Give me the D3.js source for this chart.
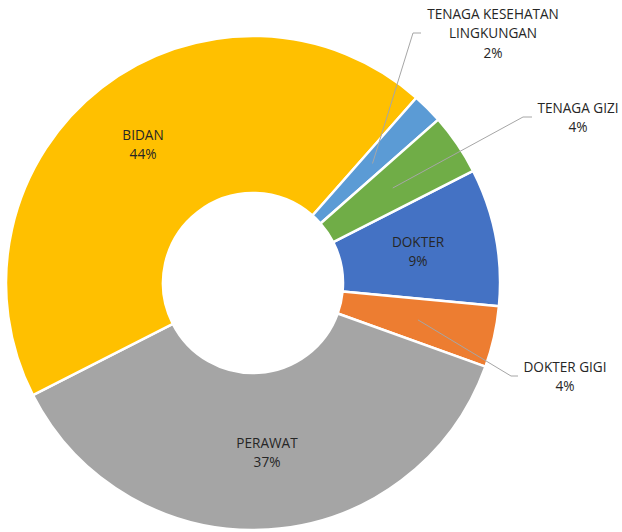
<!DOCTYPE html>
<html lang="en">
<head>
    <meta charset="UTF-8">
    <title>Tenaga Kesehatan</title>
    <script src="https://cdn.jsdelivr.net/npm/d3@7"></script>
    <style>
    html, body{padding: 0; margin: 0; background-color: #fff;}
    .marco{ width: 622px; height: 532px; }
    .etiqueta{ font-family: 'Open Sans', sans-serif; font-size: 13.6px; fill: #262626; }
    </style>
</head>
<body>
    <div class="marco"></div>

    <script>
    // datos (orden de la serie, como en la hoja original)
    const categorias = ["DOKTER", "DOKTER GIGI", "PERAWAT", "BIDAN", "TENAGA KESEHATAN LINGKUNGAN", "TENAGA GIZI"]
    const porcentajes = [9, 4, 37, 44, 2, 4]
    const colores = ["#4472C4", "#ED7D31", "#A5A5A5", "#FFC000", "#5B9BD5", "#70AD47"]
    // lineas de texto de cada etiqueta
    const lineasEtiqueta = [
        ["DOKTER"], ["DOKTER GIGI"], ["PERAWAT"], ["BIDAN"],
        ["TENAGA KESEHATAN", "LINGKUNGAN"], ["TENAGA GIZI"]
    ]

    var width = 622, height = 532,
        cx = 253, cy = 283,
        radioExt = 247, radioInt = 90,
        anguloInicio = 63 * Math.PI / 180

    var svg = d3.select(".marco").append("svg")
        .attr("width", width)
        .attr("height", height)

    var g = svg.append("g").attr("transform", `translate(${cx}, ${cy})`)

    var pie = d3.pie().sort(null).value(d => d)
        .startAngle(anguloInicio).endAngle(anguloInicio + 2 * Math.PI)

    var arco = d3.arc().innerRadius(radioInt).outerRadius(radioExt)

    var porciones = pie(porcentajes)

    g.selectAll("path")
        .data(porciones)
        .enter().append("path")
        .attr("d", arco)
        .attr("fill", (d, i) => colores[i])
        .attr("stroke", "#fff")
        .attr("stroke-width", 2.5)
        .attr("stroke-linejoin", "round")

    // posiciones de las etiquetas (fuera para las porciones pequeñas)
    var posEtiqueta = [
        { x: 418 - cx, y: 242 - cy },
        { x: 565 - cx, y: 367 - cy },
        { x: 267 - cx, y: 443 - cy },
        { x: 143 - cx, y: 135 - cy },
        { x: 493 - cx, y: 14 - cy },
        { x: 578 - cx, y: 108 - cy }
    ]
    // codo de las lineas guia: [extremo junto al texto, codo]
    var guias = {
        1: [[518 - cx, 376 - cy], [511 - cx, 376 - cy]],
        4: [[421 - cx, 33 - cy], [413 - cx, 33 - cy]],
        5: [[532 - cx, 117 - cy], [523 - cx, 117 - cy]]
    }
    var radioGuia = 169

    Object.keys(guias).forEach(k => {
        var p = porciones[k]
        var medio = (p.startAngle + p.endAngle) / 2
        var fin = [radioGuia * Math.sin(medio), -radioGuia * Math.cos(medio)]
        g.append("path")
            .attr("d", d3.line()([guias[k][0], guias[k][1], fin]))
            .attr("fill", "none")
            .attr("stroke", "#a6a6a6")
            .attr("stroke-width", 1)
    })

    var etiquetas = g.selectAll("text.etiqueta")
        .data(porciones)
        .enter().append("text")
        .attr("class", "etiqueta")
        .attr("text-anchor", "middle")
        .attr("transform", (d, i) => `translate(${posEtiqueta[i].x}, ${posEtiqueta[i].y})`)

    etiquetas.each(function(d, i){
        var lineas = lineasEtiqueta[i].concat([porcentajes[i] + "%"])
        d3.select(this).selectAll("tspan")
            .data(lineas)
            .enter().append("tspan")
            .attr("x", 0)
            .attr("y", (l, j) => j * 19.5)
            .attr("dy", "0.35em")
            .text(l => l)
    })
    </script>
</body>
</html>
